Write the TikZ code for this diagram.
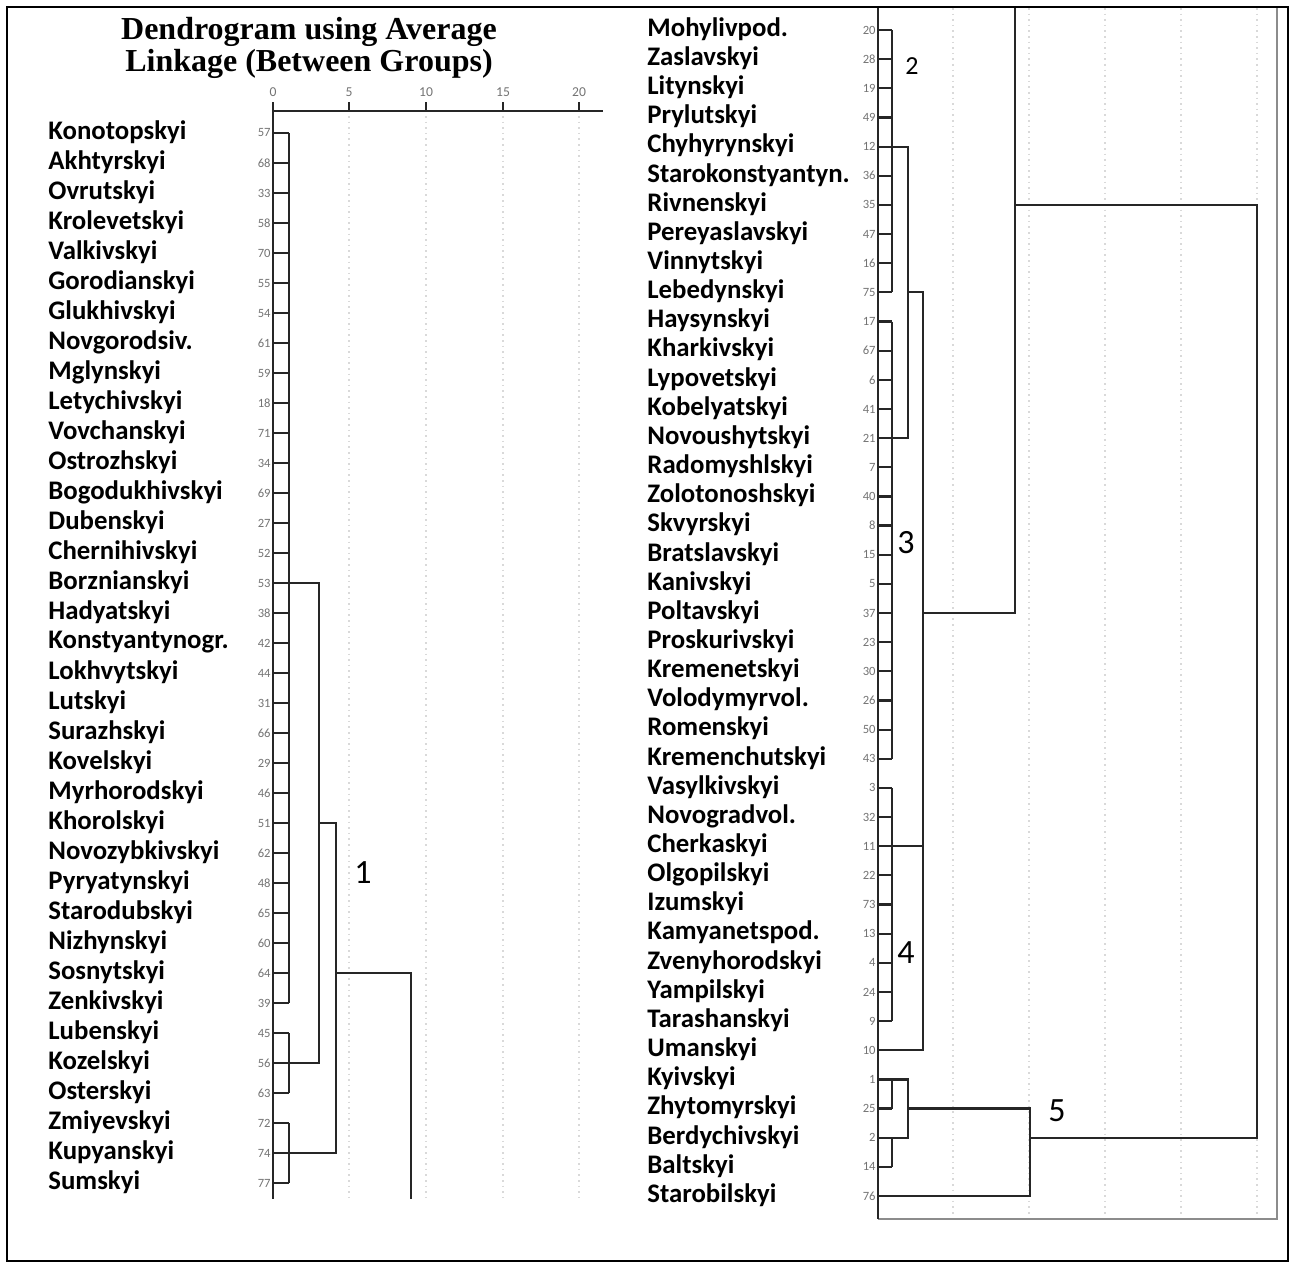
\documentclass[tikz,border=0pt]{standalone}
\usepackage{fontspec}
\setmainfont{Liberation Serif}
\newfontfamily\namefont{Carlito}
\usetikzlibrary{positioning}

\begin{document}
\begin{tikzpicture}[x=0.5pt,y=-0.5pt]

\tikzset{district/.style = {anchor=west,inner sep=0pt,font=\namefont\bfseries\fontsize{13.4}{13.4}\selectfont}}
\tikzset{caseno/.style = {anchor=east,inner sep=0pt,text=black!55,font=\namefont\fontsize{6.3}{6.3}\selectfont}}
\tikzset{scaleno/.style = {inner sep=0pt,text=black!55,font=\namefont\fontsize{6.8}{6.8}\selectfont}}
\tikzset{link/.style = {draw=black!85,line width=1.1pt}}
\tikzset{frame/.style = {draw=black!45,line width=1.1pt}}
\tikzset{gridline/.style = {draw=black!15,dotted,line width=0.8pt}}
\tikzset{clusterno/.style = {font=\namefont\fontsize{17}{17}\selectfont}}

\useasboundingbox (0,0) rectangle (1293,1263);
\draw[line width=1.4pt] (7,7) rectangle (1288,1261);

% title
\node[font=\bfseries\fontsize{16}{16}\selectfont,align=center] (title) at (309,48) {Dendrogram using Average\\Linkage (Between Groups)};

% left chart
\coordinate (lo) at (273,111);
\coordinate (lend) at (603,111);
\coordinate (ltop) at (273,102);
\coordinate (lbot) at (273,1199);
\draw[link] (lo) -- (lend);
\draw[link] (ltop) -- (lbot);
\foreach \v/\x in {0/273,5/349,10/426,15/503,20/579}{
  \node[scaleno] (s\v) at (\x,92) {\v};
  \draw[link] (\x,102) -- (\x,111);
}
\foreach \x in {349,426,503,579}
  \draw[gridline] (\x,116) -- (\x,1199);

\foreach \nm/\id [count=\i from 0] in {Konotopskyi/57,Akhtyrskyi/68,Ovrutskyi/33,Krolevetskyi/58,Valkivskyi/70,Gorodianskyi/55,Glukhivskyi/54,Novgorodsiv./61,Mglynskyi/59,Letychivskyi/18,Vovchanskyi/71,Ostrozhskyi/34,Bogodukhivskyi/69,Dubenskyi/27,Chernihivskyi/52,Borznianskyi/53,Hadyatskyi/38,Konstyantynogr./42,Lokhvytskyi/44,Lutskyi/31,Surazhskyi/66,Kovelskyi/29,Myrhorodskyi/46,Khorolskyi/51,Novozybkivskyi/62,Pyryatynskyi/48,Starodubskyi/65,Nizhynskyi/60,Sosnytskyi/64,Zenkivskyi/39,Lubenskyi/45,Kozelskyi/56,Osterskyi/63,Zmiyevskyi/72,Kupyanskyi/74,Sumskyi/77}{
  \node[district] (d\id) at (48,{132+30*\i}) {\nm};
  \node[caseno] (c\id) at (271,{133+30*\i}) {\id};
  \coordinate (t\id) at (273,{133+30*\i});
}

\coordinate (k1) at (289,0);
\coordinate (k2) at (319,0);
\coordinate (k3) at (336,0);
\coordinate (k4) at (411,0);

%edges
\foreach \id in {57,68,33,58,70,55,54,61,59,18,71,34,69,27,52,53,38,42,44,31,66,29,46,51,62,48,65,60,64,39,45,56,63,72,74,77}
  \draw[link] (t\id) -- (t\id -| k1);
\draw[link] (t57 -| k1) -- (t39 -| k1);
\draw[link] (t45 -| k1) -- (t63 -| k1);
\draw[link] (t72 -| k1) -- (t77 -| k1);
\draw[link] (t53 -| k1) -- (t53 -| k2) -- (t56 -| k2) -- (t56 -| k1);
\draw[link] (t51 -| k2) -- (t51 -| k3) -- (t74 -| k3) -- (t74 -| k1);
\draw[link] (t64 -| k3) -- (t64 -| k4) -- (lbot -| k4);

\node[clusterno] (g1) at (363,873) {1};

% right chart
\coordinate (ro) at (878,8);
\coordinate (rbot) at (878,1219);
\coordinate (rcorner) at (1277,1219);
\coordinate (rtop) at (1277,8);
\foreach \x in {953,1029,1105,1181,1257}
  \draw[gridline] (\x,8) -- (\x,1216);
\draw[frame] (rbot) -- (rcorner) -- (rtop);
\draw[link] (ro) -- (rbot);

\foreach \nm/\id [count=\i from 0] in {Mohylivpod./20,Zaslavskyi/28,Litynskyi/19,Prylutskyi/49,Chyhyrynskyi/12,Starokonstyantyn./36,Rivnenskyi/35,Pereyaslavskyi/47,Vinnytskyi/16,Lebedynskyi/75,Haysynskyi/17,Kharkivskyi/67,Lypovetskyi/6,Kobelyatskyi/41,Novoushytskyi/21,Radomyshlskyi/7,Zolotonoshskyi/40,Skvyrskyi/8,Bratslavskyi/15,Kanivskyi/5,Poltavskyi/37,Proskurivskyi/23,Kremenetskyi/30,Volodymyrvol./26,Romenskyi/50,Kremenchutskyi/43,Vasylkivskyi/3,Novogradvol./32,Cherkaskyi/11,Olgopilskyi/22,Izumskyi/73,Kamyanetspod./13,Zvenyhorodskyi/4,Yampilskyi/24,Tarashanskyi/9,Umanskyi/10,Kyivskyi/1,Zhytomyrskyi/25,Berdychivskyi/2,Baltskyi/14,Starobilskyi/76}{
  \node[district] (d\id) at (647,{29+29.15*\i}) {\nm};
  \node[caseno] (c\id) at (876,{30+29.15*\i}) {\id};
  \coordinate (t\id) at (878,{30+29.15*\i});
}

\coordinate (m1) at (892,0);
\coordinate (m2) at (908,0);
\coordinate (m3) at (923,0);
\coordinate (m4) at (1015,0);
\coordinate (m5) at (1030,0);
\coordinate (m6) at (1257,0);

%edges
\foreach \id in {20,28,19,49,12,36,35,47,16,75,17,67,6,41,21,7,40,8,15,5,37,23,30,26,50,43,3,32,11,22,73,13,4,24,9,1,25,2,14}
  \draw[link] (t\id) -- (t\id -| m1);
\draw[link] (t20 -| m1) -- (t75 -| m1);
\draw[link] (t17 -| m1) -- (t43 -| m1);
\draw[link] (t3 -| m1) -- (t9 -| m1);
\draw[link] (t1 -| m1) -- (t25 -| m1);
\draw[link] (t2 -| m1) -- (t14 -| m1);
\draw[link] (t12 -| m1) -- (t12 -| m2) -- (t21 -| m2) -- (t21 -| m1);
\draw[link] (t75 -| m2) -- (t75 -| m3) -- (t10 -| m3) -- (t10);
\draw[link] (t11 -| m1) -- (t11 -| m3);
\draw[link] (t37 -| m3) -- (t37 -| m4) -- (ro -| m4);
\draw[link] (t1 -| m1) -- (t1 -| m2) -- (t2 -| m2) -- (t2 -| m1);
\draw[link] (t25 -| m2) -- (t25 -| m5) -- (t76 -| m5) -- (t76);
\draw[link] (t35 -| m4) -- (t35 -| m6) -- (t2 -| m6) -- (t2 -| m5);

\node[clusterno,font=\namefont\fontsize{13}{13}\selectfont] (g2) at (912,66) {2};
\node[clusterno] (g3) at (906,543) {3};
\node[clusterno] (g4) at (906,953) {4};
\node[clusterno] (g5) at (1057,1111) {5};

\end{tikzpicture}
\end{document}
